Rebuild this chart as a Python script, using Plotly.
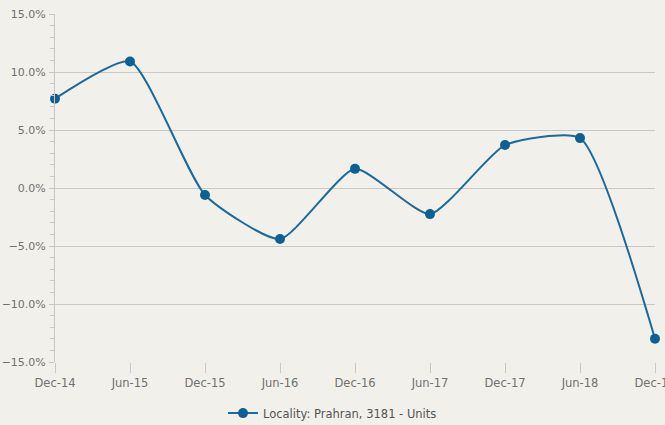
import plotly.graph_objects as go

periods = ["Dec-14", "Jun-15", "Dec-15", "Jun-16", "Dec-16", "Jun-17", "Dec-17", "Jun-18", "Dec-18"]
growth = [7.7, 10.9, -0.6, -4.4, 1.65, -2.25, 3.7, 4.3, -13.0]
series_name = "Locality: Prahran, 3181 - Units"

bg = "#f2f0eb"
line_color = "#1a6a9b"

fig = go.Figure()
fig.add_trace(go.Scatter(
    x=list(range(len(periods))), y=growth, name=series_name,
    mode="lines+markers",
    line=dict(color=line_color, width=2, shape="spline", smoothing=0.55),
    marker=dict(color="#0d6093", size=10),
    cliponaxis=False,
    showlegend=True,
))

fig.update_layout(
    width=665, height=425,
    paper_bgcolor=bg, plot_bgcolor=bg,
    margin=dict(l=55, r=10, t=14, b=63, autoexpand=False),
    font=dict(family="DejaVu Sans", size=11.5, color="#707070"),
    showlegend=True,
    legend=dict(orientation="h", xref="container", x=0.5, xanchor="center",
                yref="container", y=0.028, yanchor="middle",
                font=dict(size=11.5, color="#555555"), bgcolor="rgba(0,0,0,0)"),
    xaxis=dict(
        range=[0, len(periods) - 1], automargin=False, ticklabeloverflow="allow",
        tickmode="array", tickvals=list(range(len(periods))), ticktext=periods,
        showgrid=False, zeroline=False,
        ticks="outside", ticklen=10, tickcolor="#c8c8c8",
        showline=False,
    ),
    yaxis=dict(
        range=[-15, 15], dtick=5, tickformat=".1f", ticksuffix="%", automargin=False,
        tickfont=dict(size=11),
        showgrid=True, gridcolor="#c8c8c8", gridwidth=1,
        zeroline=False, showline=True, linecolor="#c8c8c8", linewidth=1,
        ticks="outside", ticklen=5, tickcolor="#c8c8c8", ticklabelstandoff=1,
        minor=dict(dtick=1, ticks="outside", ticklen=4, tickcolor="#c8c8c8", showgrid=False),
    ),
)

fig.write_html("out.html", config={"displayModeBar": False},
               post_script="document.body.style.margin='0';document.body.style.background='%s';" % bg)
